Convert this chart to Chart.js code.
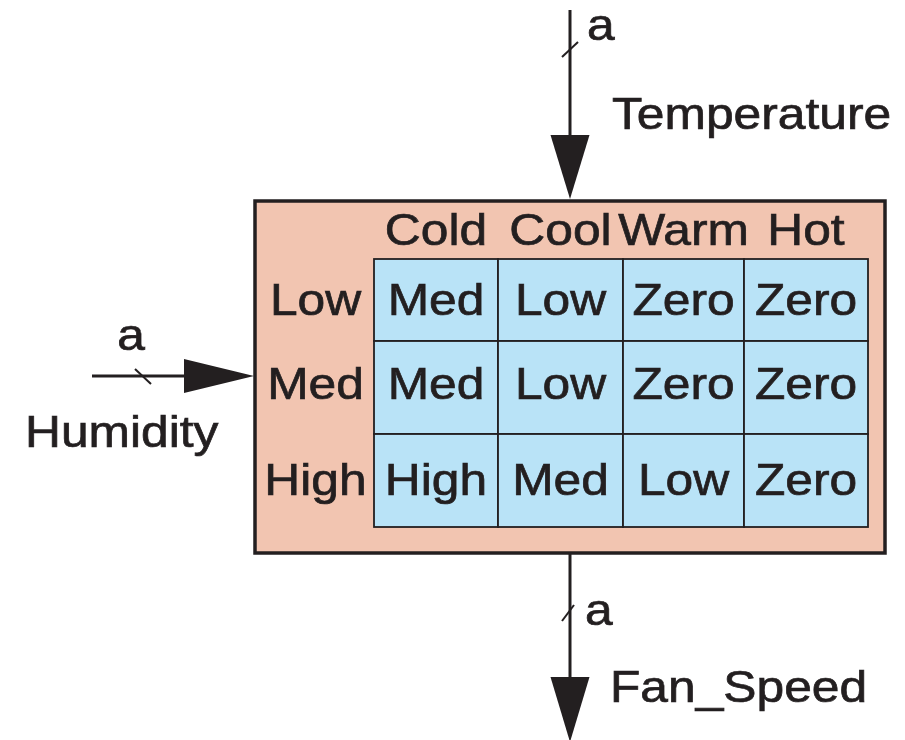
<!DOCTYPE html>
<html>
<head>
<meta charset="utf-8">
<script src="https://cdn.jsdelivr.net/npm/chart.js"></script>
<style>
  html, body { margin: 0; padding: 0; background: #fff; }
  #wrap { width: 905px; height: 740px; }
</style>
</head>
<body>
<div id="wrap"><canvas id="fsm" width="905" height="740"></canvas></div>
<script>
// =============== data ===============
const temperatureLabels = ["Cold", "Cool", "Warm", "Hot"];
const humidityLabels    = ["Low", "Med", "High"];
const fanSpeedRows = [
  ["Med",  "Low", "Zero", "Zero"],
  ["Med",  "Low", "Zero", "Zero"],
  ["High", "Med", "Low",  "Zero"],
];
const portNames = { top: "Temperature", left: "Humidity", bottom: "Fan_Speed" };
const busWidth  = "a";

// ---- layout (diagram units, mapped through the chart scales) ----
const colEdges = [374, 498, 623, 744, 868];
const rowEdges = [259, 341, 434, 527];
const rowTextY = [315, 399, 495];   // baselines of row text
const box = { x0: 255, y0: 201, x1: 885, y1: 553 };
const INK = "#231f20";
const FONT = '44px "Liberation Sans", Arial, sans-serif';
const STRETCH = 1.13; // text in the picture is a bit wide

function txt(ctx, s, x, y, align) {
  ctx.save();
  ctx.translate(x, y);
  ctx.scale(STRETCH, 1);
  ctx.textAlign = align || "center";
  ctx.textBaseline = "alphabetic";
  ctx.fillText(s, 0, 0);
  ctx.lineWidth = 0.7;
  ctx.strokeStyle = INK;
  ctx.strokeText(s, 0, 0);
  ctx.restore();
}

const diagramPlugin = {
  id: "diagram",
  afterDraw(chart) {
    const ctx = chart.ctx;
    const px = v => chart.scales.x.getPixelForValue(v);
    const py = v => chart.scales.y.getPixelForValue(v);
    ctx.save();
    ctx.font = FONT;
    ctx.fillStyle = INK;
    ctx.strokeStyle = INK;
    ctx.lineCap = "butt";

    // outer block
    ctx.fillStyle = "#f2c5b1";
    ctx.fillRect(px(box.x0), py(box.y0), px(box.x1) - px(box.x0), py(box.y1) - py(box.y0));
    ctx.lineWidth = 3.5;
    ctx.strokeRect(px(box.x0), py(box.y0), px(box.x1) - px(box.x0), py(box.y1) - py(box.y0));

    // table cells
    fanSpeedRows.forEach((row, r) => {
      row.forEach((val, c) => {
        const x0 = px(colEdges[c]), x1 = px(colEdges[c + 1]);
        const y0 = py(rowEdges[r]), y1 = py(rowEdges[r + 1]);
        ctx.fillStyle = "#b9e3f7";
        ctx.fillRect(x0, y0, x1 - x0, y1 - y0);
        ctx.lineWidth = 1.8;
        ctx.strokeStyle = INK;
        ctx.strokeRect(x0, y0, x1 - x0, y1 - y0);
        ctx.fillStyle = INK;
        txt(ctx, val, (x0 + x1) / 2, py(rowTextY[r]));
      });
    });

    // column headers / row headers
    ctx.fillStyle = INK;
    temperatureLabels.forEach((t, c) => {
      txt(ctx, t, (px(colEdges[c]) + px(colEdges[c + 1])) / 2, py(245));
    });
    humidityLabels.forEach((h, r) => {
      txt(ctx, h, (px(box.x0) + px(colEdges[0])) / 2 + 1, py(rowTextY[r]));
    });

    // arrows
    function vArrow(x, yA, yHead, yTip) {
      ctx.lineWidth = 3;
      ctx.beginPath(); ctx.moveTo(px(x), py(yA)); ctx.lineTo(px(x), py(yHead) + 2); ctx.stroke();
      ctx.beginPath();
      ctx.moveTo(px(x - 19.5), py(yHead));
      ctx.lineTo(px(x + 19.5), py(yHead));
      ctx.lineTo(px(x), py(yTip));
      ctx.closePath(); ctx.fill();
    }
    function slash(x0, y0, x1, y1) {
      ctx.lineWidth = 2;
      ctx.beginPath(); ctx.moveTo(px(x0), py(y0)); ctx.lineTo(px(x1), py(y1)); ctx.stroke();
    }

    // Temperature in
    vArrow(570, 10, 135, 199);
    slash(562, 57, 578, 42);
    txt(ctx, busWidth, 587, py(40), "left");
    txt(ctx, portNames.top, 612, py(129), "left");

    // Humidity in
    ctx.lineWidth = 3;
    ctx.beginPath(); ctx.moveTo(px(92), py(376)); ctx.lineTo(px(186), py(376)); ctx.stroke();
    ctx.beginPath();
    ctx.moveTo(px(184), py(359));
    ctx.lineTo(px(184), py(393));
    ctx.lineTo(px(254), py(376));
    ctx.closePath(); ctx.fill();
    slash(135, 369, 151, 384);
    txt(ctx, busWidth, 131, py(350));
    txt(ctx, portNames.left, 25, py(447), "left");

    // Fan_Speed out
    vArrow(570, 553, 677, 742);
    slash(562, 621, 574, 605);
    txt(ctx, busWidth, 585, py(625), "left");
    txt(ctx, portNames.bottom, 610, py(702), "left");

    ctx.restore();
  },
};

new Chart(document.getElementById("fsm").getContext("2d"), {
  type: "scatter",
  data: { datasets: [{ data: [], pointRadius: 0 }] },
  options: {
    responsive: false,
    animation: false,
    layout: { padding: 0 },
    plugins: { legend: { display: false }, tooltip: { enabled: false } },
    scales: {
      x: { type: "linear", min: 0, max: 905, display: false },
      y: { type: "linear", min: 0, max: 740, reverse: true, display: false },
    },
  },
  plugins: [diagramPlugin],
});
</script>
</body>
</html>
